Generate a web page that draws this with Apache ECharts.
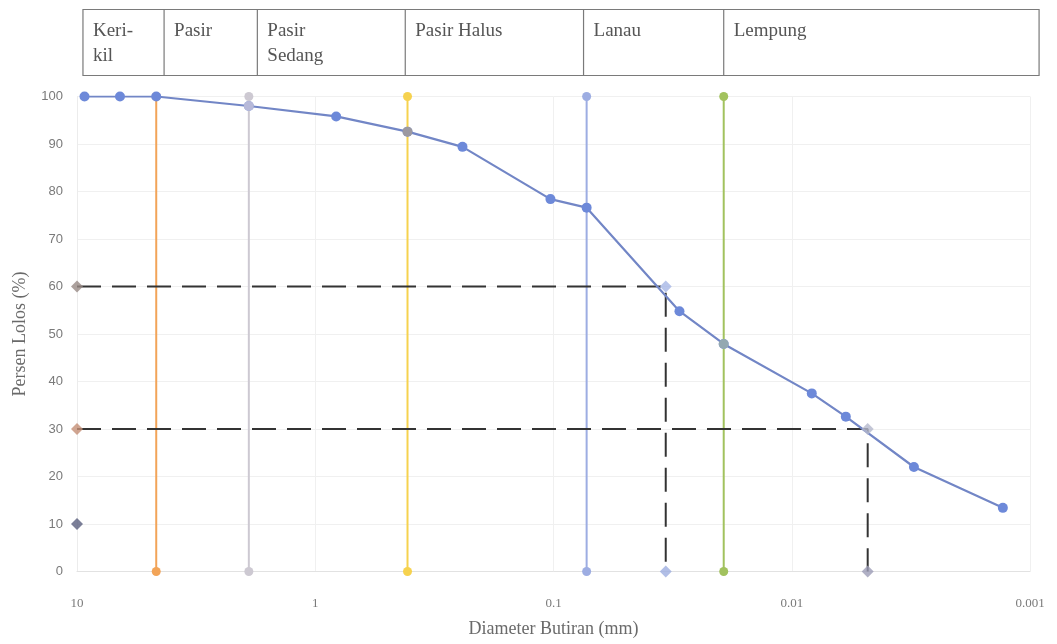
<!DOCTYPE html>
<html>
<head>
<meta charset="utf-8">
<script src="https://cdn.jsdelivr.net/npm/echarts@6/dist/echarts.min.js"></script>
<style>html,body{margin:0;padding:0;background:#fff;}#c{width:1057px;height:644px;}</style>
</head>
<body>
<div id="c"></div>
<script>
// ---- data ----
var gradDiameter = [9.3, 6.6, 4.65, 1.9, 0.817, 0.41, 0.241, 0.103, 0.0726, 0.0296, 0.0193, 0.00824, 0.00593, 0.00307, 0.0013];
var gradPassing  = [100, 100, 100, 98, 95.8, 92.6, 89.4, 78.4, 76.6, 54.8, 47.9, 37.5, 32.6, 22, 13.4];

var boundaryNames    = ['Kerikil/Pasir', 'Pasir/Pasir Sedang', 'Pasir Sedang/Pasir Halus', 'Pasir Halus/Lanau', 'Lanau/Lempung'];
var boundaryDiameter = [4.65, 1.9, 0.41, 0.0726, 0.0193];
var boundaryColors   = ['#f2a458', '#cdc9d2', '#f6d24f', '#9dade2', '#a2c25e'];

var crossDiameter = [1.9, 0.41, 0.0193];
var crossPassing  = [98, 92.6, 47.9];
var crossColors   = ['#c9c6d8', '#a89e92', '#9db2a6'];

var d60 = 0.0338, d30 = 0.0048;
var refPassing = [60, 30];

var diamondX = [10, 10, 10, d60, d30, d60, d30];
var diamondY = [60, 30, 10, 0, 0, 60, 30];
var diamondColors = ['#978a84', '#c48f76', '#5a5f7e', '#9eaee0', '#9c9cb6', '#a6b6e6', '#b4b8cc'];

var xTickLabels = ['10', '1', '0.1', '0.01', '0.001'];
var xTickValues = [10, 1, 0.1, 0.01, 0.001];

var headerLabels = [['Keri-', 'kil'], ['Pasir'], ['Pasir', 'Sedang'], ['Pasir Halus'], ['Lanau'], ['Lempung']];
var headerEdges  = [9.44, 4.31, 1.75, 0.419, 0.0748, 0.0193, 0.000916];

(function () {
  var chart = echarts.init(document.getElementById('c'), null, {renderer: 'canvas'});

  var series = [];
  boundaryDiameter.forEach(function (d, i) {
    series.push({
      name: boundaryNames[i], type: 'line', data: [[d, 0], [d, 100]],
      symbol: 'circle', symbolSize: 9, showSymbol: true,
      lineStyle: {color: boundaryColors[i], width: 2},
      itemStyle: {color: boundaryColors[i]}, z: 2, silent: true, animation: false
    });
  });
  series.push({
    name: 'D60', type: 'line', data: [[10, refPassing[0]], [d60, refPassing[0]], [d60, 0]],
    symbol: 'none', lineStyle: {color: '#333', width: 2, type: [24, 11]}, z: 3, animation: false
  });
  series.push({
    name: 'D30', type: 'line', data: [[10, refPassing[1]], [d30, refPassing[1]], [d30, 0]],
    symbol: 'none', lineStyle: {color: '#333', width: 2, type: [24, 11]}, z: 3, animation: false
  });
  series.push({
    name: 'Gradasi', type: 'line',
    data: gradDiameter.map(function (d, i) { return [d, gradPassing[i]]; }),
    symbol: 'circle', symbolSize: 10,
    lineStyle: {color: '#7286c6', width: 2.2},
    itemStyle: {color: '#6d89d9'}, z: 4, animation: false
  });
  series.push({
    name: 'Cross', type: 'scatter',
    data: crossDiameter.map(function (d, i) { return {value: [d, crossPassing[i]], itemStyle: {color: crossColors[i]}}; }),
    symbol: 'circle', symbolSize: 10, z: 5, animation: false
  });
  series.push({
    name: 'Ref', type: 'scatter',
    data: diamondX.map(function (d, i) { return {value: [d, diamondY[i]], itemStyle: {color: diamondColors[i]}}; }),
    symbol: 'diamond', symbolSize: 12, z: 6, animation: false
  });

  chart.setOption({
    backgroundColor: '#ffffff',
    animation: false,
    grid: {left: 77, right: 27, top: 96.5, bottom: 72.5, containLabel: false},
    xAxis: {
      type: 'log', logBase: 10, min: 0.001, max: 10, inverse: true,
      name: 'Diameter Butiran (mm)', nameLocation: 'middle', nameGap: 49,
      nameTextStyle: {fontFamily: 'Liberation Serif', fontSize: 18, color: '#6a6a6a'},
      axisLine: {show: true, lineStyle: {color: '#e2e2e2'}},
      axisTick: {show: false},
      axisLabel: {
        margin: 26, fontFamily: 'Liberation Serif', fontSize: 13, color: '#7a7a7a',
        formatter: function (v) {
          var best = 0, bd = Infinity;
          xTickValues.forEach(function (t, i) { var dd = Math.abs(Math.log10(t) - Math.log10(v)); if (dd < bd) { bd = dd; best = i; } });
          return xTickLabels[best];
        }
      },
      splitLine: {show: true, lineStyle: {color: '#f0f0f0'}}
    },
    yAxis: {
      type: 'value', min: 0, max: 100, interval: 10,
      name: 'Persen Lolos (%)', nameLocation: 'middle', nameGap: 48,
      nameTextStyle: {fontFamily: 'Liberation Serif', fontSize: 18, color: '#6a6a6a'},
      axisLine: {show: true, lineStyle: {color: '#ececec'}},
      axisTick: {show: false},
      axisLabel: {margin: 14, fontFamily: 'Liberation Sans', fontSize: 13, color: '#7a7a7a'},
      splitLine: {show: true, lineStyle: {color: '#f0f0f0'}}
    },
    series: series
  });

  // header table built from header edges through the x scale
  var px = headerEdges.map(function (v) { return chart.convertToPixel({xAxisIndex: 0}, v); });
  var yTop = 9.5, yBottom = 75.5;
  var els = [];
  els.push({type: 'rect', shape: {x: px[0], y: yTop, width: px[px.length - 1] - px[0], height: yBottom - yTop},
    style: {fill: '#fff', stroke: '#7a7a7a', lineWidth: 1.2}});
  for (var i = 1; i < px.length - 1; i++) {
    els.push({type: 'line', shape: {x1: px[i], y1: yTop, x2: px[i], y2: yBottom}, style: {stroke: '#7a7a7a', lineWidth: 1.2}});
  }
  headerLabels.forEach(function (lines, k) {
    els.push({type: 'text', x: px[k] + 10, y: yTop + 9,
      style: {text: lines.join('\n'), font: '19px "Liberation Serif"', fill: '#555', lineHeight: 25, verticalAlign: 'top'}});
  });
  chart.setOption({graphic: els});
})();
</script>
</body>
</html>
